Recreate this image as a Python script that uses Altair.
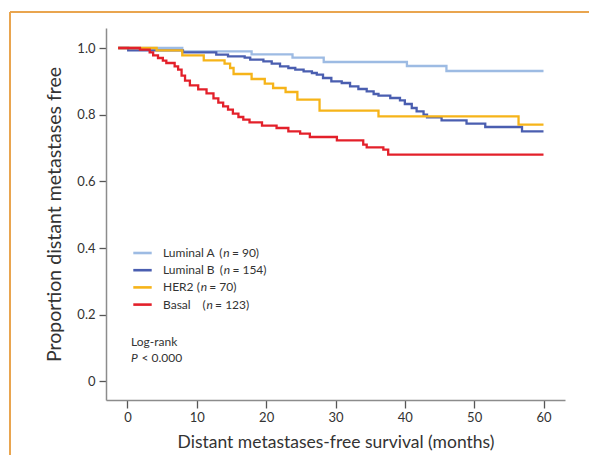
import altair as alt
import pandas as pd

# ---------------- data ----------------
series_names = ["Luminal A", "Luminal B", "HER2", "Basal"]
series_n = [90, 154, 70, 123]
series_colors = ["#9dbbe3", "#4a5eb0", "#f6b419", "#e3202a"]

lumA_t = [-1.35, 7.9, 17.9, 23.8, 28.3, 40.3, 46.0, 60.0]
lumA_s = [1.0, 0.990, 0.981, 0.971, 0.958, 0.946, 0.931, 0.931]

lumB_t = [-1.35, 0.1, 8.0, 12.8, 14.5, 16.9, 17.7, 19.6, 20.8, 22.0, 23.2, 24.2,
          25.4, 26.6, 27.3, 28.2, 29.4, 30.9, 32.1, 33.3, 34.5, 35.5, 36.2, 37.9,
          39.3, 40.0, 41.0, 41.7, 42.7, 43.2, 45.3, 48.9, 51.6, 56.9, 60.0]
lumB_s = [1.0, 0.993, 0.987, 0.980, 0.975, 0.971, 0.965, 0.960, 0.953, 0.945, 0.940,
          0.935, 0.930, 0.925, 0.920, 0.910, 0.900, 0.895, 0.885, 0.877, 0.870, 0.862,
          0.857, 0.850, 0.843, 0.832, 0.820, 0.810, 0.800, 0.792, 0.783, 0.773, 0.763,
          0.750, 0.750]

her2_t = [-1.35, 4.2, 7.9, 11.0, 14.0, 14.8, 15.3, 17.9, 19.8, 21.0, 22.8, 24.5,
          27.7, 36.2, 56.4, 60.0]
her2_s = [1.0, 0.993, 0.978, 0.963, 0.953, 0.940, 0.922, 0.907, 0.893, 0.880, 0.868,
          0.845, 0.812, 0.795, 0.770, 0.770]

basal_t = [-1.35, 1.8, 3.2, 3.7, 4.4, 5.1, 5.6, 6.8, 7.3, 7.8, 8.3, 9.0, 10.2, 11.4,
           12.4, 13.1, 13.8, 14.5, 15.2, 16.0, 16.7, 17.6, 19.4, 21.5, 23.2, 24.9,
           26.3, 30.2, 34.0, 34.5, 36.9, 37.6, 60.0]
basal_s = [1.0, 0.995, 0.987, 0.978, 0.970, 0.962, 0.955, 0.945, 0.935, 0.917, 0.902,
           0.888, 0.876, 0.864, 0.849, 0.836, 0.825, 0.815, 0.803, 0.793, 0.785, 0.777,
           0.767, 0.760, 0.750, 0.743, 0.733, 0.723, 0.710, 0.702, 0.695, 0.680, 0.680]

x_ticks = [0, 10, 20, 30, 40, 50, 60]
y_ticks = [0, 0.2, 0.4, 0.6, 0.8, 1.0]

# ---------------- tables ----------------
rows = []
for order, (name, ts, ss) in enumerate(zip(
        series_names, [lumA_t, lumB_t, her2_t, basal_t],
        [lumA_s, lumB_s, her2_s, basal_s])):
    for t, s in zip(ts, ss):
        rows.append({"series": name, "t": t, "s": s, "o": order})
curves = pd.DataFrame(rows)

# legend layout (pixel offsets inside the plot area)
legend_df = pd.DataFrame({
    "name": series_names,
    "n": series_n,
    "row": list(range(len(series_names))),
    "px": [113.3, 113.8, 90.7, 96.5],
})

FONT = "Lato"
TXT = "#333333"
W, H = 459, 372

color_scale = alt.Scale(domain=series_names, range=series_colors)

xs = alt.Scale(domain=[-3.1, 63.1], nice=False, zero=False)
ys = alt.Scale(domain=[-0.056, 1.06], nice=False, zero=False)

lines = alt.Chart(curves).mark_line(interpolate="step-after", strokeWidth=2.3).encode(
    x=alt.X("t:Q", scale=xs, axis=alt.Axis(
        values=x_ticks, title="Distant metastases-free survival (months)",
        grid=False, tickSize=8, labelPadding=3, titlePadding=9,
        titleFontSize=17.5)),
    y=alt.Y("s:Q", scale=ys, axis=alt.Axis(
        values=y_ticks, title="Proportion distant metastases free",
        labelExpr="datum.value == 0 ? '0' : format(datum.value, '.1f')",
        grid=False, tickSize=7, labelPadding=4, titlePadding=12,
        titleFontSize=19.5)),
    color=alt.Color("series:N", scale=color_scale, legend=None),
    order=alt.Order("o:Q"),
)

# custom legend
leg_base = alt.Chart(legend_df).transform_calculate(
    ly="225 + datum.row * 17.2",
    nx="datum.px + 4",
    sx="datum.px + 12.6",
    post="'= ' + datum.n + ')'",
)
leg_lines = leg_base.mark_rule(strokeWidth=2.6).encode(
    x=alt.value(27.3), x2=alt.value(45.7),
    y=alt.Y("ly:Q", scale=None),
    color=alt.Color("name:N", scale=color_scale, legend=None),
)
txt_kw = dict(align="left", baseline="middle", font=FONT, fontSize=12, color=TXT)
leg_name = leg_base.mark_text(**txt_kw).encode(
    x=alt.value(57), y=alt.Y("ly:Q", scale=None), text="name:N")
leg_paren = leg_base.mark_text(**txt_kw).encode(
    x=alt.X("px:Q", scale=None), y=alt.Y("ly:Q", scale=None), text=alt.value("("))
leg_n = leg_base.mark_text(fontStyle="italic", **txt_kw).encode(
    x=alt.X("nx:Q", scale=None), y=alt.Y("ly:Q", scale=None), text=alt.value("n"))
leg_post = leg_base.mark_text(**txt_kw).encode(
    x=alt.X("sx:Q", scale=None), y=alt.Y("ly:Q", scale=None), text="post:N")

one = pd.DataFrame({"a": [0]})
logrank = alt.Chart(one).mark_text(**txt_kw).encode(
    x=alt.value(25), y=alt.value(314), text=alt.value("Log-rank"))
p_it = alt.Chart(one).mark_text(fontStyle="italic", **txt_kw).encode(
    x=alt.value(25), y=alt.value(330), text=alt.value("P"))
p_rest = alt.Chart(one).mark_text(**txt_kw).encode(
    x=alt.value(35.5), y=alt.value(330), text=alt.value("< 0.000"))

# orange frame of the figure panel
frame_top = alt.Chart(one).mark_rule(color="#e9a54f", strokeWidth=2).encode(
    x=alt.value(-96), x2=alt.value(483), y=alt.value(-16))
frame_left = alt.Chart(one).mark_rule(color="#e9a54f", strokeWidth=2).encode(
    x=alt.value(-96), y=alt.value(-16), y2=alt.value(440))

chart = alt.layer(
    frame_top, frame_left, lines, leg_lines, leg_name, leg_paren, leg_n, leg_post,
    logrank, p_it, p_rest,
).properties(
    width=W, height=H,
    autosize=alt.AutoSizeParams(type="none"),
    padding={"left": 98, "top": 20, "right": 24, "bottom": 55},
    background="white",
).configure_view(stroke=None).configure_axis(
    domainColor="#8c8c8c", domainWidth=1.5, tickColor="#555555", tickWidth=1.3,
    labelFont=FONT, labelFontSize=13, labelColor=TXT,
    titleFont=FONT, titleColor=TXT, titleFontWeight="normal",
)

chart.save("out.html", embed_options={"renderer": "svg", "actions": False})
